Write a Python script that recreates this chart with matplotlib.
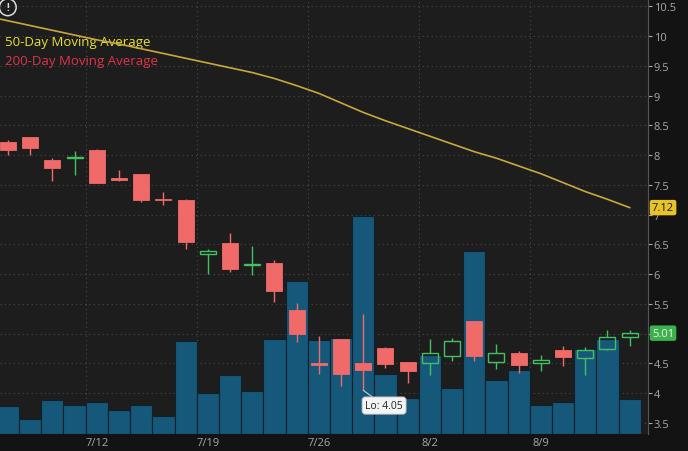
import matplotlib
matplotlib.use("Agg")
import matplotlib.pyplot as plt
import numpy as np

plt.rcParams['font.family'] = ['Open Sans', 'DejaVu Sans']

# ---- data ----
dates = ['7/6', '7/7', '7/8', '7/9', '7/12', '7/13', '7/14', '7/15', '7/16',
         '7/19', '7/20', '7/21', '7/22', '7/23', '7/26', '7/27', '7/28', '7/29', '7/30',
         '8/2', '8/3', '8/4', '8/5', '8/6', '8/9', '8/10', '8/11', '8/12', '8/13']
opens  = [8.23, 8.30, 7.92, 7.95, 8.09, 7.62, 7.68, 7.27, 7.25, 6.34, 6.52, 6.15, 6.19,
          5.40, 4.50, 4.91, 4.51, 4.76, 4.52, 4.50, 4.63, 5.21, 4.53, 4.67, 4.50, 4.73,
          4.59, 4.75, 4.94]
highs  = [8.26, 8.30, 7.95, 8.07, 8.10, 7.76, 7.69, 7.39, 7.26, 6.42, 6.70, 6.47, 6.24,
          5.51, 4.96, 4.92, 5.33, 4.77, 4.52, 4.91, 4.93, 5.22, 4.83, 4.71, 4.65, 4.79,
          4.78, 5.07, 5.06]
lows   = [8.00, 8.00, 7.57, 7.66, 7.53, 7.56, 7.21, 7.16, 6.42, 6.00, 6.03, 5.99, 5.53,
          4.86, 4.32, 4.13, 4.05, 4.42, 4.18, 4.31, 4.54, 4.54, 4.40, 4.34, 4.38, 4.46,
          4.31, 4.72, 4.80]
closes = [8.09, 8.13, 7.78, 7.97, 7.54, 7.58, 7.24, 7.25, 6.55, 6.39, 6.08, 6.17, 5.72,
          4.99, 4.47, 4.32, 4.39, 4.49, 4.37, 4.67, 4.88, 4.62, 4.67, 4.47, 4.56, 4.61,
          4.73, 4.94, 5.01]
volumes = [2.76, 1.53, 3.40, 2.93, 3.23, 2.43, 2.93, 1.80, 9.33, 4.13, 5.90, 4.33, 9.53,
           15.26, 9.43, 9.60, 21.83, 5.96, 3.60, 7.93, 4.56, 18.30, 5.43, 6.40, 2.90, 3.16,
           8.53, 9.53, 3.50]  # millions
# 50-day moving average, first value is the previous session (7/2)
ma50 = [10.34, 10.26, 10.18, 10.10, 10.02, 9.94, 9.87, 9.79, 9.71, 9.63, 9.55, 9.47,
        9.39, 9.29, 9.17, 9.04, 8.88, 8.72, 8.58, 8.45, 8.32, 8.19, 8.06, 7.95, 7.82,
        7.69, 7.54, 7.39, 7.26, 7.12]
price_ticks = [3.5, 4, 4.5, 5, 5.5, 6, 6.5, 7, 7.5, 8, 8.5, 9, 9.5, 10, 10.5]
week_labels = ['7/12', '7/19', '7/26', '8/2', '8/9']
last_ma_label = '7.12'
last_close_label = '5.01'
lo_label = 'Lo: 4.05'

# ---- styles ----
FIG_BG = '#131313'
AX_BG = '#1d1d1d'
RED = '#f06a6a'
GREEN = '#45c060'
VOL = '#16587a'
MA_COL = '#c8a83e'
TXT = '#a8a8a8'

x = np.arange(len(dates))
o = np.array(opens); h = np.array(highs); l = np.array(lows); c = np.array(closes)
up = c >= o

fig = plt.figure(figsize=(6.88, 4.52), dpi=100, facecolor=FIG_BG)
rect = [0.0, 0.0376, 0.942, 0.9624]
ax_g = fig.add_axes(rect)
ax_v = fig.add_axes(rect, sharex=ax_g)
ax_p = fig.add_axes(rect, sharex=ax_g, sharey=ax_g)

ax_g.set_facecolor(AX_BG)
ax_v.patch.set_visible(False)
ax_p.patch.set_visible(False)

ax_g.set_xlim(-0.36, 28.83)
ax_g.set_ylim(3.315, 10.626)

monday_idx = np.array([dates.index(w) for w in week_labels])
ax_g.set_xticks(monday_idx)
ax_g.set_xticklabels(week_labels)
ax_g.set_xticks(monday_idx - 0.5, minor=True)
ax_g.set_yticks(price_ticks)

# grid on bottom axes
ax_g.grid(which='minor', axis='x', color='#4a4a4a', linestyle=(0, (1, 3)), linewidth=0.8)
ax_g.grid(which='major', axis='y', color='#4a4a4a', linestyle=(0, (1, 3)), linewidth=0.8)
ax_g.tick_params(which='both', left=False, bottom=False, labelleft=False, labelbottom=False,
                 right=False, labelright=False)
for s in ax_g.spines.values():
    s.set_visible(False)

# volume
ax_v.bar(x, volumes, width=1.0, color=VOL, edgecolor='#10202a', linewidth=0.8)
ax_v.set_ylim(0, 43.5)
ax_v.tick_params(which='both', left=False, bottom=False, labelleft=False, labelbottom=False,
                 right=False, labelright=False)
for s in ax_v.spines.values():
    s.set_visible(False)

# candles
bw = 0.72
body_lo = np.minimum(o, c)
body_hi = np.maximum(o, c)
col = np.where(up, GREEN, RED)
ax_p.vlines(x, body_hi, h, colors=col, linewidth=1.0, zorder=3)
ax_p.vlines(x, l, body_lo, colors=col, linewidth=1.0, zorder=3)
heights = np.maximum(body_hi - body_lo, 0.02)
ax_p.bar(x[~up], heights[~up], bottom=body_lo[~up], width=bw, color=RED,
         edgecolor=RED, linewidth=0.6, zorder=4)
ax_p.bar(x[up], heights[up], bottom=body_lo[up], width=bw, facecolor='none',
         edgecolor=GREEN, linewidth=1.0, zorder=4)

# moving average
ax_p.plot(np.arange(-1, len(dates)), ma50, color=MA_COL, linewidth=1.2, zorder=5)

# axes ticks
ax_p.yaxis.tick_right()
ax_p.tick_params(axis='y', which='both', right=True, left=False, labelright=True, labelleft=False,
                 colors=TXT, labelsize=8, length=3, pad=1, labelcolor=TXT)
ax_p.tick_params(axis='x', which='both', bottom=False, labelbottom=True, labelsize=8,
                 labelcolor=TXT, pad=-1)
ax_p.set_yticks(price_ticks)
ax_p.set_yticklabels([f'{t:g}' for t in price_ticks])
for k, s in ax_p.spines.items():
    s.set_visible(k == 'right')
ax_p.spines['right'].set_color('#555555')
ax_p.set_xticks(monday_idx)
ax_p.set_xticklabels(week_labels)

# price tags
ytr = ax_p.get_yaxis_transform()
ax_p.text(1.006, ma50[-1], last_ma_label, transform=ytr, ha='left', va='center', fontsize=8,
          color='#1a1a1a', zorder=10, clip_on=False,
          bbox=dict(boxstyle='round,pad=0.2,rounding_size=0.2', fc='#e8c22a', ec='none'))
ax_p.text(1.006, closes[-1], last_close_label, transform=ytr, ha='left', va='center', fontsize=8,
          color='#f0f0f0', zorder=10, clip_on=False,
          bbox=dict(boxstyle='round,pad=0.2,rounding_size=0.2', fc='#3db24c', ec='none'))

# legend texts
ax_p.text(0.008, 0.903, '50-Day Moving Average', transform=ax_p.transAxes, fontsize=9.5,
          color='#e8e03a', ha='left', va='center')
ax_p.text(0.008, 0.858, '200-Day Moving Average', transform=ax_p.transAxes, fontsize=9.5,
          color='#e0344a', ha='left', va='center')

# info icon
ax_p.text(0.012, 0.981, '!', transform=ax_p.transAxes, fontsize=7, color='#dddddd',
          ha='center', va='center', fontweight='bold',
          bbox=dict(boxstyle='circle,pad=0.3', fc='none', ec='#dddddd', lw=1.1))

# Lo tooltip
lo_i = int(np.argmin(l))
ax_p.annotate(lo_label, xy=(lo_i, l[lo_i]), xytext=(15, -11), textcoords='offset points',
              fontsize=7.5, color='#222222', ha='center', va='center', zorder=12,
              bbox=dict(boxstyle='round,pad=0.3,rounding_size=0.3', fc='#f4f4f4', ec='#bbbbbb', lw=0.6),
              arrowprops=dict(arrowstyle='-', color='#cccccc', lw=0.8, shrinkA=0, shrinkB=0))

fig.savefig('out.png', dpi=100, facecolor=FIG_BG)
